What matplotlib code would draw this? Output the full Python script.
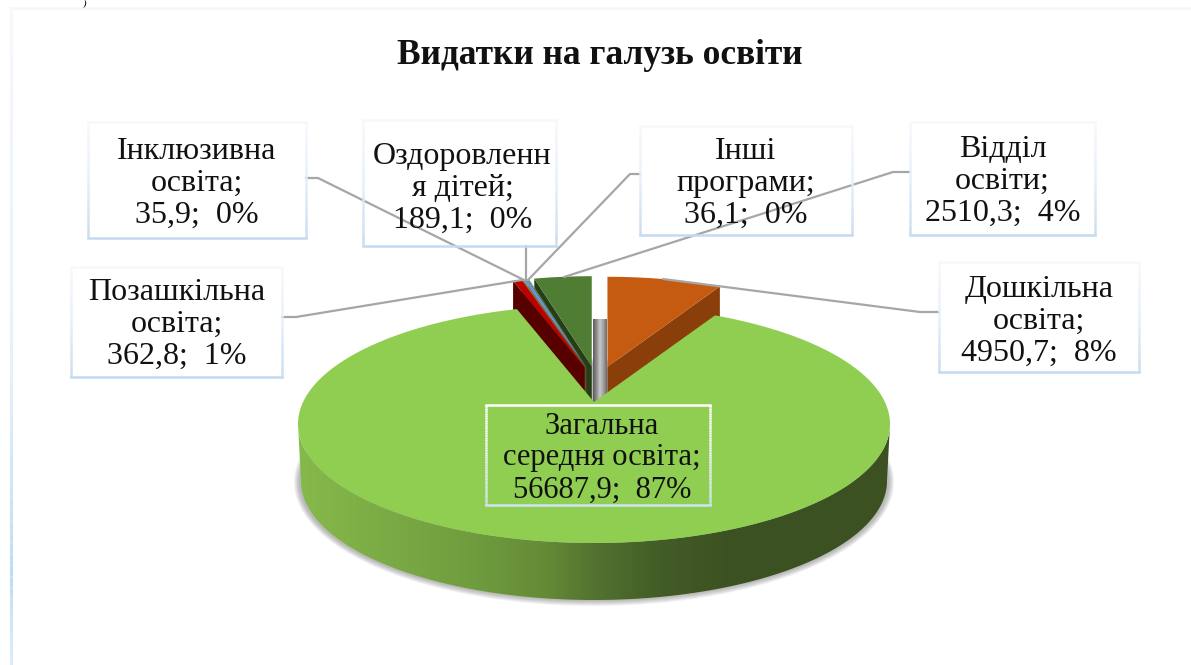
# Видатки на галузь освіти - 3D pie look, drawn in pixel coordinates
import numpy as np
import matplotlib
matplotlib.use('Agg')
import matplotlib.pyplot as plt
from matplotlib.collections import LineCollection
from matplotlib.colors import LinearSegmentedColormap
from matplotlib.patches import Polygon, Ellipse

# Data
categories = ['Дошкільна\nосвіта;', 'Загальна\nсередня освіта;', 'Позашкільна\nосвіта;',
              'Інклюзивна\nосвіта;', 'Оздоровленн\nя дітей;', 'Інші\nпрограми;', 'Відділ\nосвіти;']
values = [4950.7, 56687.9, 362.8, 35.9, 189.1, 36.1, 2510.3]
value_labels = ['4950,7', '56687,9', '362,8', '35,9', '189,1', '36,1', '2510,3']
percents = [8, 87, 1, 0, 0, 0, 4]
title = 'Видатки на галузь освіти'

# Styles
top_colors = ['#c55a11', '#8fce50', '#c00000', '#c9a227', '#6f94c9', '#7f9f5f', '#4f7d33']
face_colors = ['#8a3f0b', '#3b5022', '#560000', '#6e5a14', '#2e4a70', '#3c5228', '#263d17']

# Label boxes: left, top, right, bottom
boxes = [(939, 262, 1139, 372), (486, 405, 710, 505), (71, 267, 282, 377),
         (88, 122, 306, 238), (363, 120, 556, 246), (640, 126, 852, 235), (910, 122, 1095, 235)]
label_shift = [(0, 4), (4, 3), (0, 2), (0, 3), (3, 5), (0, 3), (0, 3)]
label_size = [23, 22, 23, 23, 23, 23, 23]
leaders = [[(939, 312), (920, 312), (663, 279)], None, [(282, 317), (296, 317), (522, 280)],
           [(306, 178), (318, 178), (524, 280)], [(526, 246), (526, 280)],
           [(640, 174), (630, 174), (528, 280)], [(910, 172), (893, 172), (564, 277)]]

# Pie geometry
CX, TIP_Y = 594, 402
RX, RY, CY_OFF = 296, 119, 22
RX_E, RY_E, CY_OFF_E = 275, 110, 20
DEPTH, DEPTH_E = 57, 53
SQUASH = 0.86
MAIN = 1


def warp(deg):
    t = np.radians(deg)
    phi = np.arctan2(SQUASH * np.sin(t), np.cos(t))
    return phi + 2 * np.pi * np.round((t - phi) / (2 * np.pi))


def rim(phi, cx, cy, rx, ry):
    return np.column_stack([cx + rx * np.sin(phi), cy - ry * np.cos(phi)])


def gradient(ax, colors, extent, clip, zorder):
    cmap = LinearSegmentedColormap.from_list('g', colors)
    im = ax.imshow(np.linspace(0, 1, 300).reshape(1, -1), cmap=cmap, extent=extent,
                   aspect='auto', zorder=zorder)
    clip.set_transform(ax.transData)
    im.set_clip_path(clip)


def fade_line(ax, x, y0, y1, colors, lw, zorder):
    # vertical line whose colour changes from y0 to y1
    ys = np.linspace(y0, y1, 60)
    segs = [[(x, a), (x, b)] for a, b in zip(ys[:-1], ys[1:])]
    cmap = LinearSegmentedColormap.from_list('f', colors)
    lc = LineCollection(segs, cmap=cmap, linewidths=lw, zorder=zorder)
    lc.set_array(np.linspace(0, 1, len(segs)))
    ax.add_collection(lc)


fig = plt.figure(figsize=(11.91, 6.65), dpi=100)
ax = fig.add_axes([0, 0, 1, 1])
ax.axis('off')

# chart frame and the bit of text at the very top
ax.plot([10, 1191], [8, 8], color='#f5f8fd', lw=2, zorder=0)
fade_line(ax, 10.5, 8, 665, [(0, '#f5f8fd'), (0.55, '#e6f0fa'), (0.87, '#bcdcf8'), (1, '#dcebfa')], 2.2, 0)
ax.text(85, 4.5, ')', family='Liberation Serif', style='italic', weight='bold', fontsize=6,
        ha='center', va='center', zorder=1)

angles = np.concatenate([[0], np.cumsum(values)]) / np.sum(values) * 360
cy = TIP_Y + CY_OFF

# soft shadow under the wall
for i in range(6):
    ax.add_patch(Ellipse((CX, cy + DEPTH + 1), 2 * (RX - 2 + 6 - i), 2 * (RY + 5 - i),
                         fc='#555555', ec='none', alpha=0.08, zorder=1))

# front wall of the big slice
phi_wall = np.radians(np.linspace(90, 270, 200))
wall = np.vstack([rim(phi_wall, CX, cy, RX, RY), rim(phi_wall[::-1], CX, cy + DEPTH, RX - 3, RY)])
wall_colors = [(0, '#86b94b'), (0.3, '#6f9c3e'), (0.42, '#648a36'), (0.5, '#537330'),
               (0.6, '#445e28'), (0.72, '#3d5222'), (1, '#3c5122')]
gradient(ax, wall_colors, (CX - RX, CX + RX, cy + DEPTH + RY, cy), Polygon(wall), 2)

# exploded slices, back to front so the thin ones sit on the dark faces
order = [0, 6, 5, 4, 3, 2]
for k, i in enumerate(order):
    phi0, phi1 = warp(angles[i]), warp(angles[i + 1])
    mid = (phi0 + phi1) / 2
    tip = np.array([CX + 3 + 50 * np.sin(mid), TIP_Y - 36 * np.cos(mid)])
    arc = rim(np.linspace(phi0, phi1, 40), tip[0], tip[1] + CY_OFF_E, RX_E, RY_E)
    # cut face that looks at the viewer
    edge = arc[-1] if np.sin(mid) > 0 else arc[0]
    drop = np.array([0, DEPTH_E])
    ax.add_patch(Polygon([edge, tip, tip + drop, edge + drop], fc=face_colors[i], ec='none', zorder=3 + k * 0.1))
    ax.add_patch(Polygon(np.vstack([tip, arc]), fc=top_colors[i], ec='none', zorder=3.05 + k * 0.1))

# grey inner strip of the pie showing in the gap
strip = Polygon([(593, 319), (607, 319), (607, 396), (594, 402), (593, 402)])
gradient(ax, ['#5a5a5a', '#8c8c8c', '#c8c8c8', '#a0a0a0', '#6a6a6a'], (593, 607, 402, 319), strip, 4)

# top of the big slice
phi_main = np.linspace(warp(angles[MAIN]), warp(angles[MAIN + 1]), 400)
ax.add_patch(Polygon(np.vstack([[CX, TIP_Y], rim(phi_main, CX, cy, RX, RY)]),
                     fc=top_colors[MAIN], ec='none', zorder=5))

# leader lines
for line in leaders:
    if line is not None:
        xs, ys = zip(*line)
        ax.plot(xs, ys, color='#a6a6a6', lw=1.6, zorder=6, solid_capstyle='round')

# label boxes and text
for i, (l, t, r, b) in enumerate(boxes):
    if i == MAIN:
        side = ['#ffffff', '#eaf3fa', '#cfe3f4']
    else:
        side = ['#f5f9fd', '#e4eef9', '#c4daf0']
    fade_line(ax, l, t, b, side, 1.8, 7)
    fade_line(ax, r, t, b, side, 1.8, 7)
    ax.plot([l, r], [t, t], color=side[0], lw=1.8, zorder=7)
    ax.plot([l, r], [b, b], color=side[2], lw=1.8, zorder=7)
    dx, dy = label_shift[i]
    ax.text((l + r) / 2 + dx, (t + b) / 2 + dy, f'{categories[i]}\n{value_labels[i]};  {percents[i]}%',
            family='Liberation Serif', fontsize=label_size[i], ha='center', va='center', color='#111111',
            linespacing=1.13, zorder=8)

ax.text(600, 56, title, family='Liberation Serif', weight='bold', fontsize=25.5, ha='center',
        va='center', color='#111111', zorder=8)

ax.set_xlim(0, 1191)
ax.set_ylim(665, 0)
fig.savefig('out.png', dpi=100)
